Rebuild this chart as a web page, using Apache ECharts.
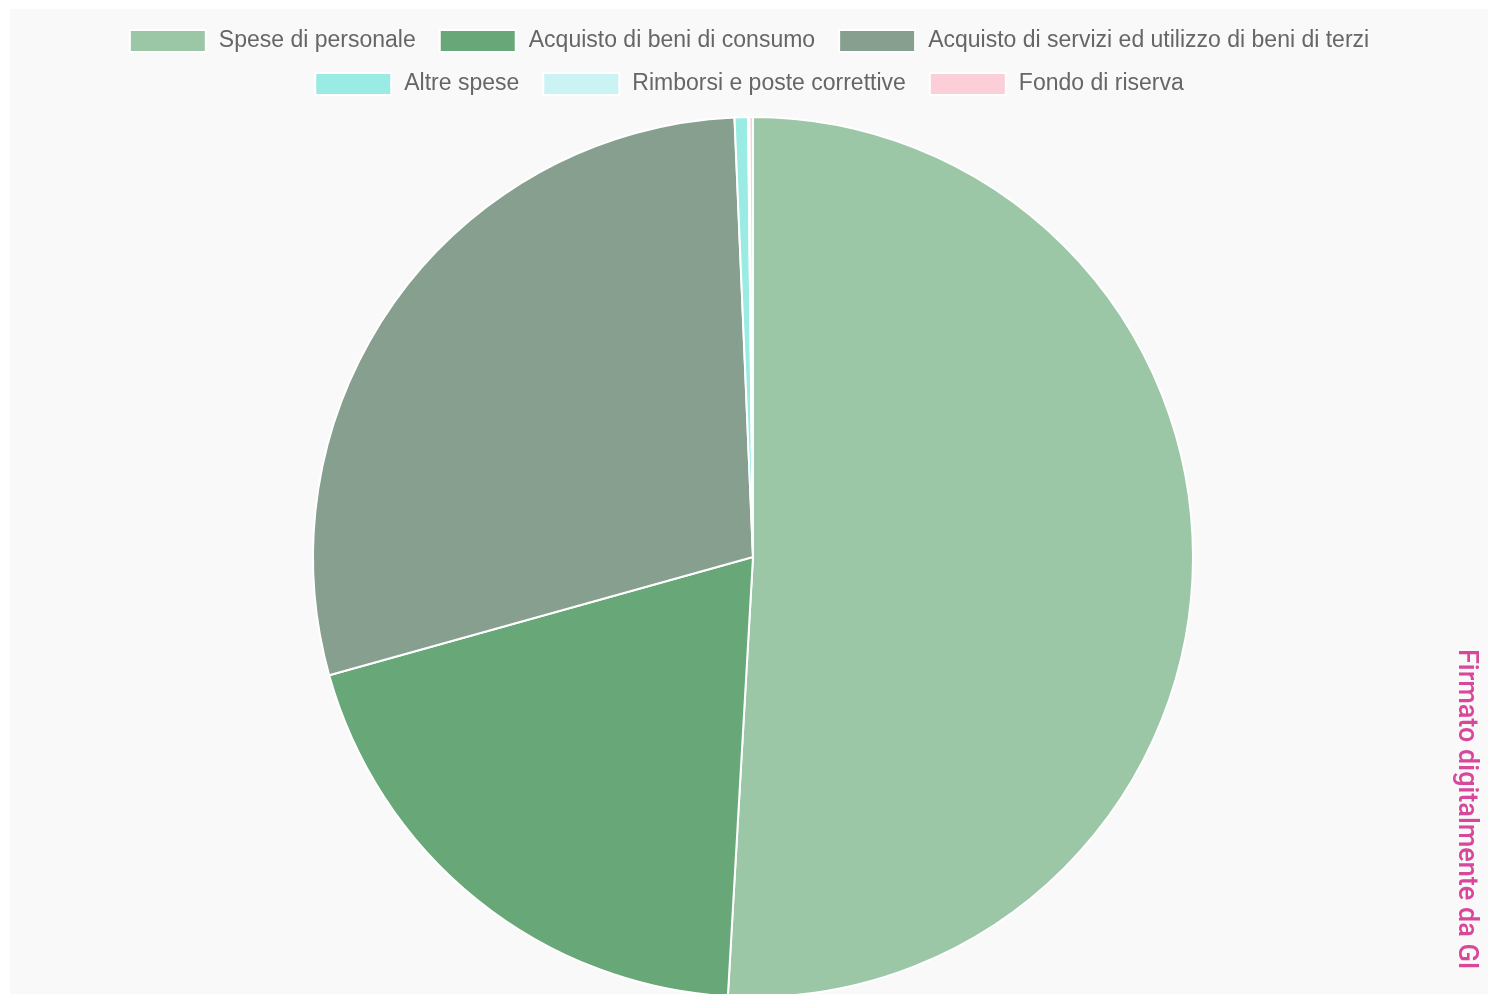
<!DOCTYPE html>
<html>
<head>
<meta charset="utf-8">
<script src="https://cdn.jsdelivr.net/npm/echarts@6/dist/echarts.min.js"></script>
<style>
html,body{margin:0;padding:0;background:#ffffff;overflow:hidden;width:1488px;height:994px;}
#chart{position:absolute;left:10px;top:9px;width:1478px;height:985px;background:#f9f9f9;}
</style>
</head>
<body>
<div id="chart"></div>
<script>
const categories = [
  "Spese di personale",
  "Acquisto di beni di consumo",
  "Acquisto di servizi ed utilizzo di beni di terzi",
  "Altre spese",
  "Rimborsi e poste correttive",
  "Fondo di riserva"
];
const values = [50.91, 19.76, 28.66, 0.49, 0.05, 0.13];
const colors = ["#9bc7a6", "#68a878", "#879f8f", "#99ebe3", "#ccf3f3", "#fccfd8"];
const legendRow1 = categories.slice(0, 3);
const legendRow2 = categories.slice(3);
const signature = "Firmato digitalmente da GI";

const chart = echarts.init(document.getElementById('chart'), null, {renderer: 'canvas'});
const legendCommon = {
  left: 'center',
  orient: 'horizontal',
  icon: 'rect',
  itemWidth: 76,
  itemHeight: 22,
  itemGap: 23,
  selectedMode: false,
  textStyle: {color: '#666666', fontSize: 23, fontFamily: 'Liberation Sans, Arial, sans-serif', padding: [0, 0, 0, 8]}
};
chart.setOption({
  animation: false,
  color: colors,
  legend: [
    Object.assign({}, legendCommon, {top: 15, data: legendRow1}),
    Object.assign({}, legendCommon, {top: 58, data: legendRow2})
  ],
  series: [{
    type: 'pie',
    center: [743, 548],
    radius: [0, 440],
    startAngle: 90,
    clockwise: true,
    avoidLabelOverlap: false,
    label: {show: false},
    labelLine: {show: false},
    emphasis: {disabled: true},
    itemStyle: {borderColor: '#ffffff', borderWidth: 2},
    data: categories.map((c, i) => ({name: c, value: values[i]}))
  }],
  graphic: [{
    type: 'text',
    x: 1456,
    y: 640,
    rotation: -Math.PI / 2,
    style: {
      text: signature,
      fill: '#d9479b',
      font: '500 27px Roboto, "Liberation Sans", Arial, sans-serif',
      textAlign: 'left',
      textVerticalAlign: 'middle'
    }
  }]
});
</script>
</body>
</html>
